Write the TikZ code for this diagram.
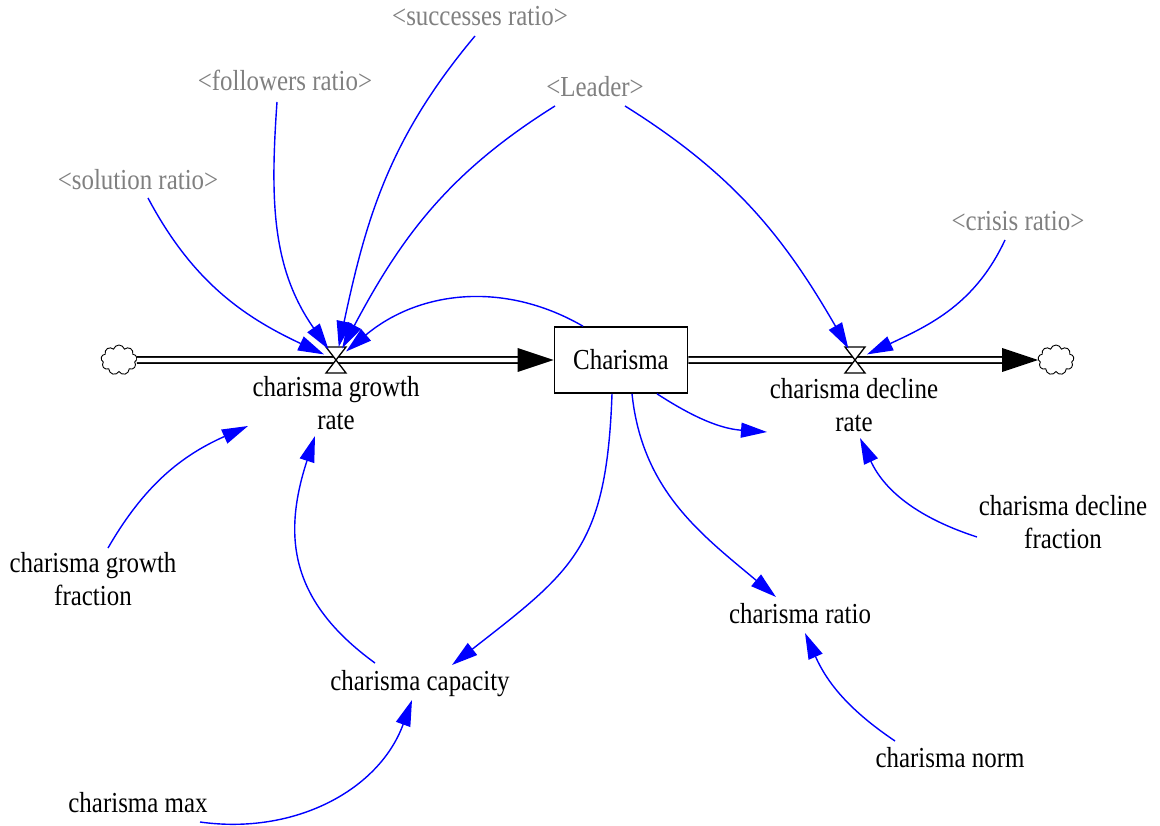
\documentclass[tikz,border=0pt]{standalone}
\usepackage{fontspec}
\usepackage{graphicx}
\setmainfont{Liberation Serif}
\usetikzlibrary{arrows.meta,shapes.symbols}
\definecolor{linkblue}{RGB}{0,0,255}
\definecolor{shadowgray}{RGB}{128,128,128}
% narrow setting of a label line
\newcommand\nar[1]{\scalebox{0.86}[1]{#1}}
\begin{document}
\begin{tikzpicture}[x=1pt,y=-1pt,
  every node/.style={font=\fontsize{29}{32.5}\selectfont, inner sep=0pt},
  var/.style={anchor=base},
  shadow/.style={var, text=shadowgray},
  ratelabel/.style={align=center},
  link/.style={draw=linkblue, line width=1.4pt, -{Triangle[length=26pt,width=15pt]}},
  pipe/.style={draw=black, line width=1.6pt, double=white, double distance=4.4pt},
  valvehub/.style={circle, minimum size=26pt},
  valveshape/.style={draw=black, fill=white, line width=1.3pt, line join=miter},
  stockbox/.style={draw=black, fill=white, line width=1.6pt, minimum width=133pt, minimum height=66pt},
  source/.style={cloud, cloud puffs=9, aspect=1.2, draw=black, line width=0.9pt,
                 minimum width=36pt, minimum height=30pt, fill=white},
]
\useasboundingbox (0,0) rectangle (1160,826);

% stock, sources and valve hubs
\node[stockbox] (box) at (621,360) {\nar{Charisma}};
\node[source] (cl) at (119,360) {};
\node[source] (cr) at (1056,360) {};
\node[valvehub] (gv) at (336,360) {};
\node[valvehub] (dv) at (855,360) {};

% variables
\node[ratelabel] (gr) at (336,403) {\nar{charisma growth}\\\nar{rate}};
\node[ratelabel] (dr) at (854,405) {\nar{charisma decline}\\\nar{rate}};
\node[ratelabel] (gfr) at (93,579) {\nar{charisma growth}\\\nar{fraction}};
\node[ratelabel] (dfr) at (1063,522) {\nar{charisma decline}\\\nar{fraction}};
\node[var] (cap) at (420,690) {\nar{charisma capacity}};
\node[var] (cmax) at (138,812) {\nar{charisma max}};
\node[var] (rat) at (800,623) {\nar{charisma ratio}};
\node[var] (nrm) at (950,767) {\nar{charisma norm}};

% shadow variables
\node[shadow] (solr) at (138,190) {\nar{<solution ratio>}};
\node[shadow] (fol) at (285,91) {\nar{<followers ratio>}};
\node[shadow] (suc) at (480,26) {\nar{<successes ratio>}};
\node[shadow] (lea) at (595,97) {\nar{<Leader>}};
\node[shadow] (cri) at (1018,231) {\nar{<crisis ratio>}};

% flow pipes
\draw[pipe, shorten >=30pt] (cl) -- (box);
\fill (box.west) -- ++(-36,-12) -- ++(0,24) -- cycle;
\draw[pipe, shorten >=30pt] (box) -- (cr);
\fill (cr.west) -- ++(-36,-12) -- ++(0,24) -- cycle;

% valves
\draw[valveshape] ([shift={(-10,-13)}]gv.center) -- ([shift={(10,-13)}]gv.center)
  -- ([shift={(-10,13)}]gv.center) -- ([shift={(10,13)}]gv.center) -- cycle;
\draw[valveshape] ([shift={(-10,-13)}]dv.center) -- ([shift={(10,-13)}]dv.center)
  -- ([shift={(-10,13)}]dv.center) -- ([shift={(10,13)}]dv.center) -- cycle;

% causal links
\draw[link] ([shift={(10,8)}]solr.base) to[out=-62,in=155] (gv);
\draw[link] ([shift={(-8,11)}]fol.base) to[out=-94,in=125] (gv);
\draw[link] ([shift={(-5,10)}]suc.base) to[out=-130,in=78] (gv);
\draw[link] ([shift={(-40,9)}]lea.base) to[out=-148,in=62] (gv);
\draw[link] ([shift={(-38,0)}]box.north) to[out=150,in=40] (gv);
\draw[link] ([shift={(30,9)}]lea.base) to[out=-32,in=120] (dv);
\draw[link] ([shift={(-13,9)}]cri.base) to[out=-115,in=25] (dv);
\draw[link] ([shift={(36,0)}]box.south) to[out=-33,in=176] ([shift={(-87,27)}]dr.center);
\draw[link] ([shift={(-9,0)}]box.south) to[out=-92,in=38,looseness=1.25] ([shift={(32,-25)}]cap.base);
\draw[link] ([shift={(11,0)}]box.south) to[out=-84,in=140] ([shift={(-24,-26)}]rat.base);
\draw[link] ([shift={(15,-31)}]gfr.center) to[out=60,in=204] ([shift={(-88,23)}]gr.center);
\draw[link] ([shift={(-45,-27)}]cap.base) to[out=144,in=252,looseness=1.15] ([shift={(-21,33)}]gr.center);
\draw[link] ([shift={(62,10)}]cmax.base) to[out=-8,in=250] ([shift={(-8,10)}]cap.base);
\draw[link] ([shift={(-86,15)}]dfr.center) to[out=162,in=-65] ([shift={(6,33)}]dr.center);
\draw[link] ([shift={(-55,-26)}]nrm.base) to[out=146,in=-66] ([shift={(5,10)}]rat.base);
\end{tikzpicture}
\end{document}
